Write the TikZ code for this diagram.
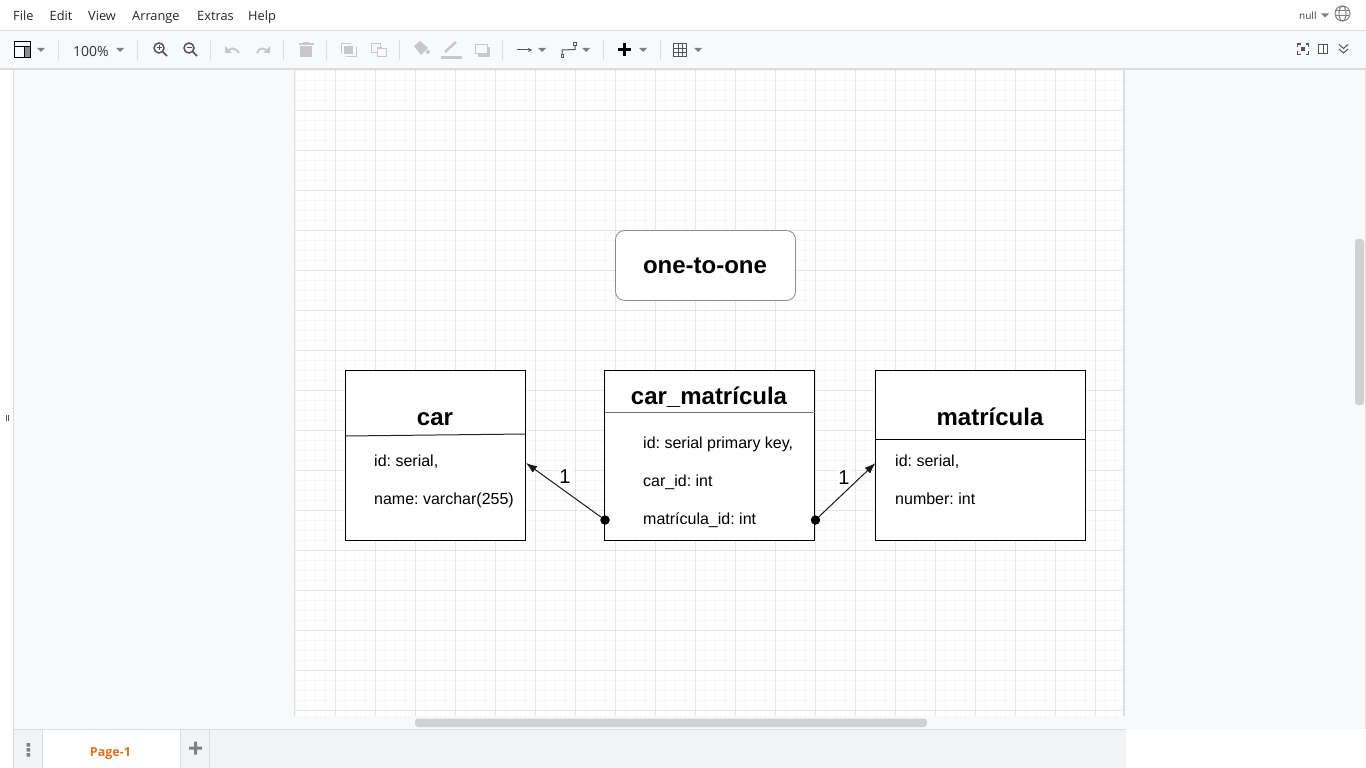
\documentclass[tikz,border=0pt]{standalone}
\usepackage{fontspec}
\setmainfont{Liberation Sans}
\newfontfamily\uifont{Open Sans}
\usetikzlibrary{arrows.meta}
\frenchspacing
\definecolor{minorgrid}{HTML}{F6F6F6}
\definecolor{majorgrid}{HTML}{E6E6E6}
\definecolor{chrome}{HTML}{F8F9FA}
\definecolor{sep}{HTML}{DDDDDD}
\definecolor{tabbar}{HTML}{F1F3F4}
\definecolor{disabled}{HTML}{C8C8C8}
\definecolor{icon}{HTML}{555555}
\definecolor{caret}{HTML}{808080}
\definecolor{pageorange}{HTML}{E0701A}
\tikzset{
  x=1pt,y=-1pt,
  tablebox/.style={draw=black,line width=1pt,fill=white,rectangle,inner sep=0pt,outer sep=0pt,anchor=north west},
  body/.style={font=\fontsize{16}{19}\selectfont,anchor=base west,inner sep=0pt},
  heading/.style={font=\fontsize{24}{28}\selectfont\bfseries,anchor=base,inner sep=0pt},
  menu/.style={font=\uifont\fontsize{12.8}{15}\selectfont,text=black!85,anchor=base west,inner sep=0pt},
  card/.style={line width=1pt},
  rel/.style={draw=black!90,line width=1pt,-{Latex[length=11pt,width=8pt]}},
  dot/.style={circle,fill=black,minimum size=9.5pt,inner sep=0pt},
  cardlabel/.style={font=\fontsize{20}{24}\selectfont,fill=white,inner sep=1pt},
  tsep/.style={draw=sep,line width=1pt},
  caretm/.style={fill=caret,draw=none},
}
\newcommand{\caretat}[2]{\fill[caretm] (#1-4,#2-2) -- (#1+4,#2-2) -- (#1,#2+2) -- cycle;}
\begin{document}
\begin{tikzpicture}
\useasboundingbox (0,0) rectangle (1366,768);
% window
\fill[white] (0,0) rectangle (1366,768);
\fill[chrome] (0,30) rectangle (1366,69);
\fill[chrome] (0,69) rectangle (1366,729);
\draw[sep] (0,30.5) -- (1366,30.5);
\draw[sep,line width=1.5pt] (0,69) -- (1366,69);
\fill[white] (0,70) rectangle (13,768);
\draw[sep] (13.5,70) -- (13.5,768);
\draw[icon,line width=.7pt] (6,415) -- (6,421) (8,415) -- (8,421);
% page and grid
\fill[white] (295,70) rectangle (1124,716);
\begin{scope}
\clip (295,70) rectangle (1124,716);
\foreach \i in {0,...,83}{\draw[minorgrid,line width=1pt] (295+10*\i+.5,70) -- (295+10*\i+.5,716);}
\foreach \i in {0,...,65}{\draw[minorgrid,line width=1pt] (295,70+10*\i+.5) -- (1124,70+10*\i+.5);}
\foreach \i in {0,...,20}{\draw[majorgrid,line width=1pt] (335+40*\i+.5,70) -- (335+40*\i+.5,716);}
\foreach \i in {0,...,16}{\draw[majorgrid,line width=1pt] (295,110+40*\i+.5) -- (1124,110+40*\i+.5);}
\end{scope}
\draw[sep,line width=1.3pt] (294.5,70) -- (294.5,716);
\draw[sep,line width=1.3pt] (1124,70) -- (1124,716);
\fill[chrome] (14,716) rectangle (1366,729);
% title
\node[draw=black!45,line width=.8pt,fill=white,rounded corners=9pt,minimum width=180pt,minimum height=70pt,inner sep=0pt,outer sep=0pt,anchor=north west] (title) at (615.5,230.5) {};
\node[heading] (titletext) at (705,273) {one-to-one};
% tables
\node[tablebox,minimum width=180pt,minimum height=170pt] (car) at (345.5,370.5) {};
\node[tablebox,minimum width=210pt,minimum height=170pt] (link) at (604.5,370.5) {};
\node[tablebox,minimum width=210pt,minimum height=170pt] (mat) at (875.5,370.5) {};
\draw[card,draw=black!85] (car.west |- 0,436) -- (car.east |- 0,434);
\draw[line width=1.5pt,draw=black!55] (link.west |- 0,412.5) -- (link.east |- 0,412.5);
\draw[card] (mat.west |- 0,439.5) -- (mat.east |- 0,439.5);
\node[heading] (carh) at (435,425) {car};
\node[heading] (linkh) at (709,404) {car\_matrícula};
\node[heading] (math) at (990,425) {matrícula};
\node[body] (c1) at (374,466) {id: serial,};
\node[body] (c2) at (374,504) {name: varchar(255)};
\node[body] (l1) at (643,448) {id: serial primary key,};
\node[body] (l2) at (643,486) {car\_id: int};
\node[body] (l3) at (643,524) {matrícula\_id: int};
\node[body] (m1) at (895,466) {id: serial,};
\node[body] (m2) at (895,504) {number: int};
% connectors
\node[dot] (d1) at (605,520) {};
\node[dot] (d2) at (815.5,520) {};
\coordinate (e1) at (526,463);
\coordinate (e2) at (875.5,463);
\draw[rel] (d1) -- (e1);
\draw[rel] (d2) -- (e2);
\node[cardlabel] (n1) at (565,477) {1};
\node[cardlabel] (n2) at (844,478) {1};
% menu
\node[menu] (mFile) at (13,21) {File};
\node[menu] (mEdit) at (49.5,21) {Edit};
\node[menu] (mView) at (88,21) {View};
\node[menu] (mArr) at (132,21) {Arrange};
\node[menu] (mExt) at (197,21) {Extras};
\node[menu] (mHelp) at (248,21) {Help};
\node[font=\uifont\fontsize{10}{12}\selectfont,anchor=base west,inner sep=0pt,text=black!75] (nul) at (1299,20) {null};
\caretat{1325}{15.5}
\begin{scope}[draw=caret,line width=1pt]
\draw[fill=white] (1342.5,13.5) circle (7.5pt);
\draw (1342.5,13.5) ellipse (3.5pt and 7.5pt);
\draw (1335,11) -- (1350,11) (1335,16) -- (1350,16);
\end{scope}
% toolbar separators
\foreach \x in {58.5,137.5,210.5,283.5,326.5,399.5,502.5,603.5,660.5}{\draw[tsep] (\x,40) -- (\x,60);}
% layout icon
\draw[black,line width=1pt] (14.5,41.5) rectangle (30.5,57.5);
\fill[black!45] (24.5,47) rectangle (30,57);
\draw[black,line width=1pt] (14.5,46.5) -- (30.5,46.5) (24.5,46.5) -- (24.5,57.5);
\caretat{41}{50}
% zoom
\node[font=\uifont\fontsize{14}{16}\selectfont,anchor=base west,inner sep=0pt,text=black!80] (zoomtxt) at (73,57) {100\%};
\caretat{120}{50}
\begin{scope}[draw=icon,line width=1.5pt]
\draw (159,48) circle (5pt) (163,52) -- (167,56);
\draw[line width=1pt] (156.5,48) -- (161.5,48) (159,45.5) -- (159,50.5);
\draw (189,48) circle (5pt) (193,52) -- (197,56);
\draw[line width=1pt] (186.5,48) -- (191.5,48);
\end{scope}
% undo/redo
\begin{scope}[draw=disabled,line width=2pt]
\draw (227,53) .. controls (229,47) and (235,47) .. (239,53);
\fill[disabled] (225,46) -- (225,53) -- (232,53) -- cycle;
\draw (257,53) .. controls (259,47) and (265,47) .. (269,53);
\fill[disabled] (270,46) -- (270,53) -- (263,53) -- cycle;
\end{scope}
% delete
\fill[disabled] (300,46) rectangle (312,57);
\fill[disabled] (298.5,43) rectangle (313.5,45);
\fill[disabled] (303,42) rectangle (309,43.5);
% order icons
\draw[disabled,line width=1pt] (341.5,43.5) -- (341.5,53.5) (352,56.5) -- (346,56.5);
\fill[disabled] (344,46) rectangle (353,54);
\draw[disabled,line width=1pt] (346,57) -- (356,57) -- (356,47);
\draw[disabled,line width=1pt] (341.5,43.5) -- (351,43.5);
\draw[disabled,line width=1pt] (371.5,43.5) rectangle (380.5,52.5);
\fill[disabled] (377,47) rectangle (382,52);
\draw[disabled,line width=1pt,fill=chrome] (377.5,48.5) rectangle (386,57);
% fill, line, shadow
\fill[disabled] (414,46) -- (420,41) -- (428,48) -- (421,55) -- cycle;
\fill[disabled] (428,52) circle (2pt);
\fill[disabled] (441,56) rectangle (462,59);
\draw[disabled,line width=2.5pt] (445,52) -- (456,42);
\draw[disabled,line width=1pt,fill=chrome] (475.5,44.5) rectangle (487.5,53.5);
\fill[disabled] (478,54) rectangle (490,57);
\fill[disabled] (488,47) rectangle (490,57);
% connection icons
\draw[icon,line width=1pt,-{Stealth[length=4pt,width=4pt]}] (517,50) -- (532,50);
\caretat{542}{50}
\draw[icon,line width=1pt] (562,54) -- (562,50) -- (575,49.5) -- (575,45);
\draw[icon,line width=1pt,fill=chrome] (561,55) rectangle (563.5,57.5);
\draw[icon,line width=1pt,fill=chrome] (573.5,43) rectangle (576,45.5);
\caretat{586}{50}
% plus
\fill[black] (618,48.5) rectangle (631,51.5);
\fill[black] (623,43.5) rectangle (626,56.5);
\caretat{643}{50}
% table icon
\draw[icon,line width=.8pt] (673.5,43.5) rectangle (686.5,56.5);
\draw[icon,line width=.8pt] (678,43.5) -- (678,56.5) (682.2,43.5) -- (682.2,56.5) (673.5,48) -- (686.5,48) (673.5,52.2) -- (686.5,52.2);
\caretat{698}{50}
% right icons
\begin{scope}[draw=icon,line width=1.3pt]
\draw (1297.5,47.5) -- (1297.5,44) -- (1300.5,44) (1305.5,44) -- (1308.5,44) -- (1308.5,47.5) (1308.5,51.5) -- (1308.5,54.5) -- (1305.5,54.5) (1300.5,54.5) -- (1297.5,54.5) -- (1297.5,51.5);
\fill[icon] (1301,47) rectangle (1305,51);
\draw[line width=.9pt] (1318.5,44.5) rectangle (1327.5,53.5) (1323.5,44.5) -- (1323.5,53.5);
\draw[line width=1pt] (1339,44.5) -- (1343.5,48.5) -- (1348,44.5) (1339,49) -- (1343.5,53) -- (1348,49);
\end{scope}
% scrollbars
\fill[black!18,rounded corners=3pt] (415,718.5) rectangle (927,727);
\fill[black!18,rounded corners=3pt] (1355,239) rectangle (1364,405);
\draw[sep] (1365.5,69) -- (1365.5,729);
% tab bar
\fill[tabbar] (14,730) rectangle (1126,768);
\draw[sep] (14,729.5) -- (1126,729.5);
\fill[white] (43,730) rectangle (180.5,768);
\draw[sep] (42.5,730) -- (42.5,768) (180.5,730) -- (180.5,768) (209.5,730) -- (209.5,768);
\fill[caret] (26.5,743) rectangle (30,746.5) (26.5,748) rectangle (30,751.5) (26.5,753) rectangle (30,756.5);
\fill[caret] (189,746.5) rectangle (202,749.5) (194,741.5) rectangle (197,754.5);
\node[font=\uifont\fontsize{12.5}{15}\selectfont\bfseries,text=pageorange,anchor=base,inner sep=0pt] (page) at (110.5,756) {Page-1};
\end{tikzpicture}
\end{document}
